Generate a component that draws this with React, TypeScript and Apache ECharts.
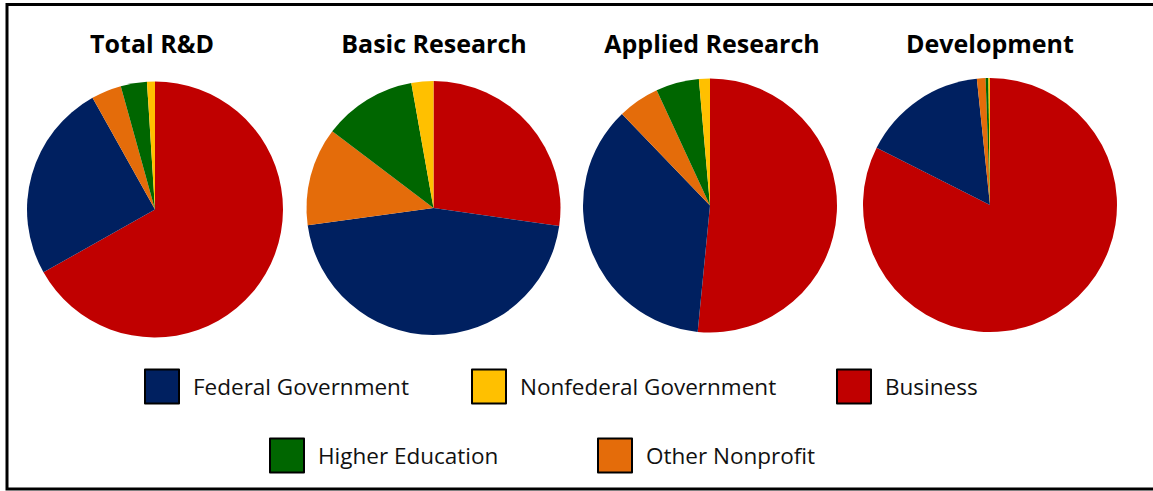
import React, { useEffect, useRef } from "react";
import * as echarts from "echarts";

const categories = ["Business", "Federal Government", "Other Nonprofit", "Higher Education", "Nonfederal Government"];
const colors = ["#C00000", "#002060", "#E46C0A", "#006600", "#FFC000"];
const titles = ["Total R&D", "Basic Research", "Applied Research", "Development"];
const totalRD = [66.7, 25.0, 3.8, 3.3, 1.0];
const basicResearch = [27.3, 45.6, 12.5, 11.9, 2.8];
const appliedResearch = [51.6, 36.3, 5.3, 5.5, 1.4];
const development = [82.4, 15.9, 1.1, 0.35, 0.2];
const legendRow1 = ["Federal Government", "Nonfederal Government", "Business"];
const legendRow2 = ["Higher Education", "Other Nonprofit"];

const seriesValues = [totalRD, basicResearch, appliedResearch, development];
const pieCenters: [number, number][] = [[155, 209.5], [433.5, 208], [710, 205.5], [990, 205]];
const pieRadii = [128, 127, 127, 127];
const titleX = [152, 434, 712, 990];
const legendPos1 = [144, 471, 836];
const legendPos2 = [269, 597];

export default function App() {
  const ref = useRef<HTMLDivElement>(null);
  useEffect(() => {
    if (!ref.current) return;
    const chart = echarts.init(ref.current, null, { renderer: "svg" });
    const font = "'Open Sans', 'Noto Sans', sans-serif";
    const legendItem = (name: string, left: number, top: number) => ({
      data: [name],
      left,
      top,
      orient: "horizontal",
      itemWidth: 34,
      itemHeight: 34,
      icon: "rect",
      selectedMode: false,
      padding: 0,
      itemStyle: { borderColor: "#000", borderWidth: 2 },
      textStyle: { fontFamily: font, fontSize: 22.5, color: "#111", padding: [0, 0, 0, 9] },
    });
    chart.setOption({
      animation: false,
      backgroundColor: "#fff",
      color: colors,
      title: titles.map((t, i) => ({
        text: t,
        left: titleX[i],
        top: 30,
        padding: 0,
        textAlign: "center",
        textStyle: { fontFamily: font, fontSize: 25, fontWeight: "bold", color: "#000" },
      })),
      legend: [
        ...legendRow1.map((n, i) => legendItem(n, legendPos1[i], 368.5)),
        ...legendRow2.map((n, i) => legendItem(n, legendPos2[i], 437.5)),
      ],
      graphic: [
        {
          type: "rect",
          shape: { x: 7, y: 4.5, width: 1160, height: 484.5 },
          style: { fill: "none", stroke: "#000", lineWidth: 3 },
          silent: true,
        },
      ],
      series: seriesValues.map((vals, i) => ({
        type: "pie",
        center: pieCenters[i],
        radius: pieRadii[i],
        startAngle: 90,
        clockwise: true,
        label: { show: false },
        labelLine: { show: false },
        emphasis: { disabled: true },
        itemStyle: { borderWidth: 0 },
        data: categories.map((c, j) => ({ name: c, value: vals[j], itemStyle: { color: colors[j] } })),
      })),
    });
    return () => chart.dispose();
  }, []);
  return <div ref={ref} style={{ position: "absolute", left: 0, top: 0, width: 1153, height: 491 }} />;
}
